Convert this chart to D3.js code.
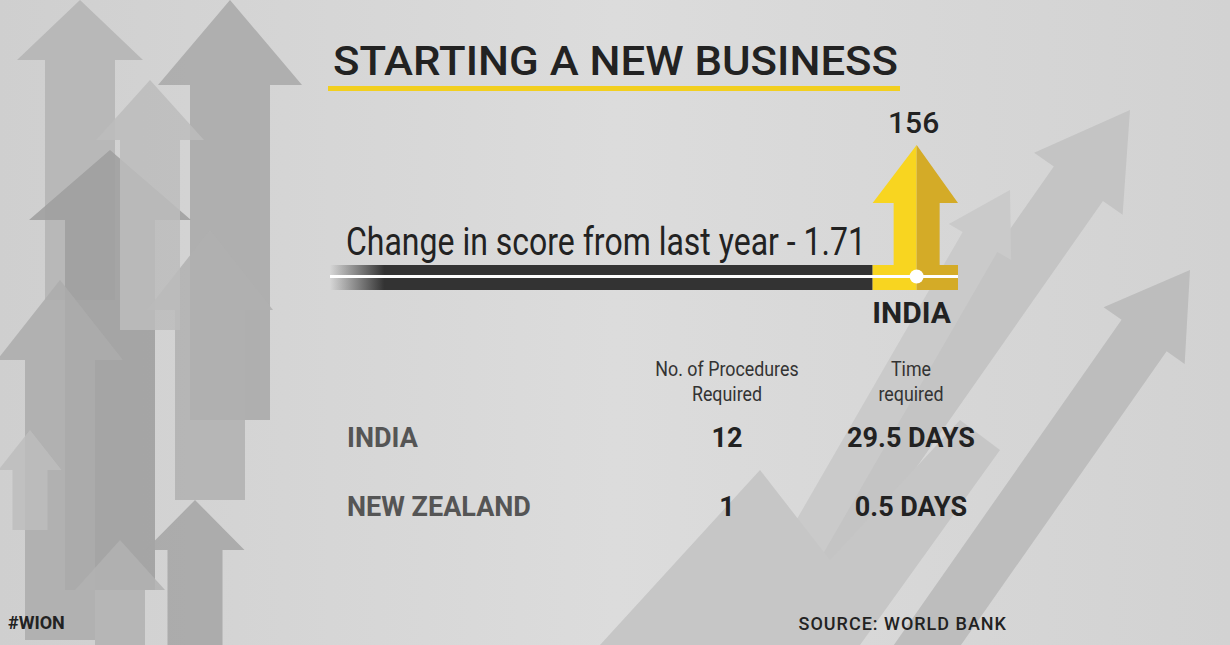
<!DOCTYPE html>
<html><head><meta charset="utf-8">
<script src="https://cdn.jsdelivr.net/npm/d3@7"></script>
<style>body{margin:0;background:#d6d6d6}svg{display:block}</style>
</head><body><svg id="c" width="1230" height="645"></svg>
<script>
const title = 'STARTING A NEW BUSINESS';
const rank = 156;
const scoreChange = 1.71;
const rankMax = 167;
const countries = ['INDIA', 'NEW ZEALAND'];
const procedures = [12, 1];
const daysRequired = [29.5, 0.5];
const columns = ['No. of Procedures|Required', 'Time|required'];

const svg = d3.select('#c');
const defs = svg.append('defs');
const bg = defs.append('linearGradient').attr('id', 'bg').attr('x1', 0).attr('x2', 1);
bg.append('stop').attr('offset', 0).attr('stop-color', '#cfcfcf');
bg.append('stop').attr('offset', 0.5).attr('stop-color', '#dcdcdc');
bg.append('stop').attr('offset', 1).attr('stop-color', '#d2d2d2');
svg.append('rect').attr('width', 1230).attr('height', 645).attr('fill', 'url(#bg)');

// decorative background arrows
function arrow(x, y, w, h, head) {
  const hw = w * 1.8;
  return `M${x - w/2},${y + h} L${x - w/2},${y + head} L${x - hw/2},${y + head} L${x},${y} L${x + hw/2},${y + head} L${x + w/2},${y + head} L${x + w/2},${y + h} Z`;
}
const deco = [[80,0,70,300,60,'#b4b4b4'],[230,0,80,420,85,'#a8a8a8'],[110,150,90,440,70,'#9e9e9e'],
  [60,280,70,360,80,'#acacac'],[210,230,70,270,80,'#b0b0b0'],[150,80,60,250,60,'#bcbcbc'],
  [195,500,55,200,50,'#a4a4a4'],[120,540,50,150,50,'#b2b2b2'],[30,430,35,100,40,'#bdbdbd']];
svg.append('g').selectAll('path').data(deco).join('path')
  .attr('d', d => arrow(d[0], d[1], d[2], d[3], d[4])).attr('fill', d => d[5]).attr('opacity', 0.85);
const rightDeco = [[1130,110,60,600,90,'#c4c4c4',35],[1190,270,55,500,80,'#bdbdbd',35],[1010,190,40,500,60,'#cacaca',30]];
svg.append('g').selectAll('path').data(rightDeco).join('path')
  .attr('d', d => arrow(d[0], d[1], d[2], d[3], d[4])).attr('fill', d => d[5])
  .attr('transform', d => `rotate(${d[6]},${d[0]},${d[1]})`);
svg.append('path').attr('d', 'M600,645 L760,470 L830,560 L960,420 L1000,450 L860,645 Z').attr('fill', '#c6c6c6');

// title
svg.append('text').attr('x', 333).attr('y', 75).text(title)
  .attr('font-family', 'Roboto, sans-serif').attr('font-weight', 500).attr('font-size', 40)
  .attr('textLength', 565).attr('lengthAdjust', 'spacingAndGlyphs').attr('fill', '#222');
svg.append('rect').attr('x', 328).attr('y', 86).attr('width', 572).attr('height', 5).attr('fill', '#f2cf1f');

// rank bar
const x = d3.scaleLinear().domain([0, rankMax]).range([330, 958]);
const bar = defs.append('linearGradient').attr('id', 'bar').attr('x1', 0).attr('x2', 1);
bar.append('stop').attr('offset', 0).attr('stop-color', '#333').attr('stop-opacity', 0);
bar.append('stop').attr('offset', 0.1).attr('stop-color', '#333').attr('stop-opacity', 1);
const barY = 265, barH = 25;
const ax = x(rank);
const yellowStart = ax - 44, yellowEnd = x(rankMax);
svg.append('rect').attr('x', x(0)).attr('y', barY).attr('width', yellowStart - x(0)).attr('height', barH).attr('fill', 'url(#bar)');
// arrow: head 145..203, narrow shaft down to bar, bar section full width
const headY = 203, shaftHalf = 23;
svg.append('path').attr('d', `M${yellowStart},${barY + barH} L${yellowStart},${barY} L${ax - shaftHalf},${barY} L${ax - shaftHalf},${headY} L${yellowStart},${headY} L${ax},145 L${ax},${barY + barH} Z`).attr('fill', '#f8d520');
svg.append('path').attr('d', `M${ax},${barY + barH} L${ax},145 L${yellowEnd},${headY} L${ax + shaftHalf},${headY} L${ax + shaftHalf},${barY} L${yellowEnd},${barY} L${yellowEnd},${barY + barH} Z`).attr('fill', '#d4ab27');
svg.append('rect').attr('x', x(0)).attr('y', barY + 10).attr('width', x(rankMax) - x(0)).attr('height', 3).attr('fill', '#fff');
svg.append('circle').attr('cx', ax).attr('cy', barY + 11.5).attr('r', 7).attr('fill', '#fff');
svg.append('text').attr('x', ax - 3).attr('y', 133).attr('text-anchor', 'middle').text(rank)
  .attr('font-family', 'Roboto, sans-serif').attr('font-weight', 500).attr('font-size', 30).attr('fill', '#222');
svg.append('text').attr('x', ax - 5).attr('y', 323).attr('text-anchor', 'middle').text(countries[0])
  .attr('font-family', 'Roboto, sans-serif').attr('font-weight', 700).attr('font-size', 30).attr('fill', '#222');
svg.append('text').attr('x', 346).attr('y', 255).text(`Change in score from last year - ${scoreChange}`)
  .attr('font-family', 'Roboto, sans-serif').attr('font-size', 38).attr('fill', '#222')
  .attr('textLength', 520).attr('lengthAdjust', 'spacingAndGlyphs');

// table
const colX = [727, 911];
columns.forEach((c, i) => {
  c.split('|').forEach((line, j) => {
    svg.append('text').attr('x', colX[i]).attr('y', 376 + j * 25).attr('text-anchor', 'middle').text(line)
      .attr('font-family', 'Roboto, sans-serif').attr('font-size', 21).attr('fill', '#333')
      .attr('transform', `translate(${colX[i]},0) scale(0.85,1) translate(${-colX[i]},0)`);
  });
});
const rowY = d3.scalePoint().domain(countries).range([447, 516]);
const rows = svg.append('g').attr('font-family', 'Roboto, sans-serif').attr('font-weight', 700).attr('font-size', 27);
countries.forEach((c, i) => {
  rows.append('text').attr('x', 347).attr('y', rowY(c)).text(c).attr('fill', '#555');
  rows.append('text').attr('x', colX[0]).attr('y', rowY(c)).attr('text-anchor', 'middle').text(procedures[i]).attr('fill', '#222');
  rows.append('text').attr('x', colX[1]).attr('y', rowY(c)).attr('text-anchor', 'middle').text(`${daysRequired[i]} DAYS`).attr('fill', '#222');
});

svg.append('text').attr('x', 8).attr('y', 629).text('#WION')
  .attr('font-family', 'Roboto, sans-serif').attr('font-weight', 700).attr('font-size', 18).attr('fill', '#222');
svg.append('text').attr('x', 1007).attr('y', 630).attr('text-anchor', 'end').text('SOURCE: WORLD BANK')
  .attr('font-family', 'Roboto, sans-serif').attr('font-weight', 500).attr('font-size', 18).attr('letter-spacing', 1).attr('fill', '#222');
</script></body></html>
